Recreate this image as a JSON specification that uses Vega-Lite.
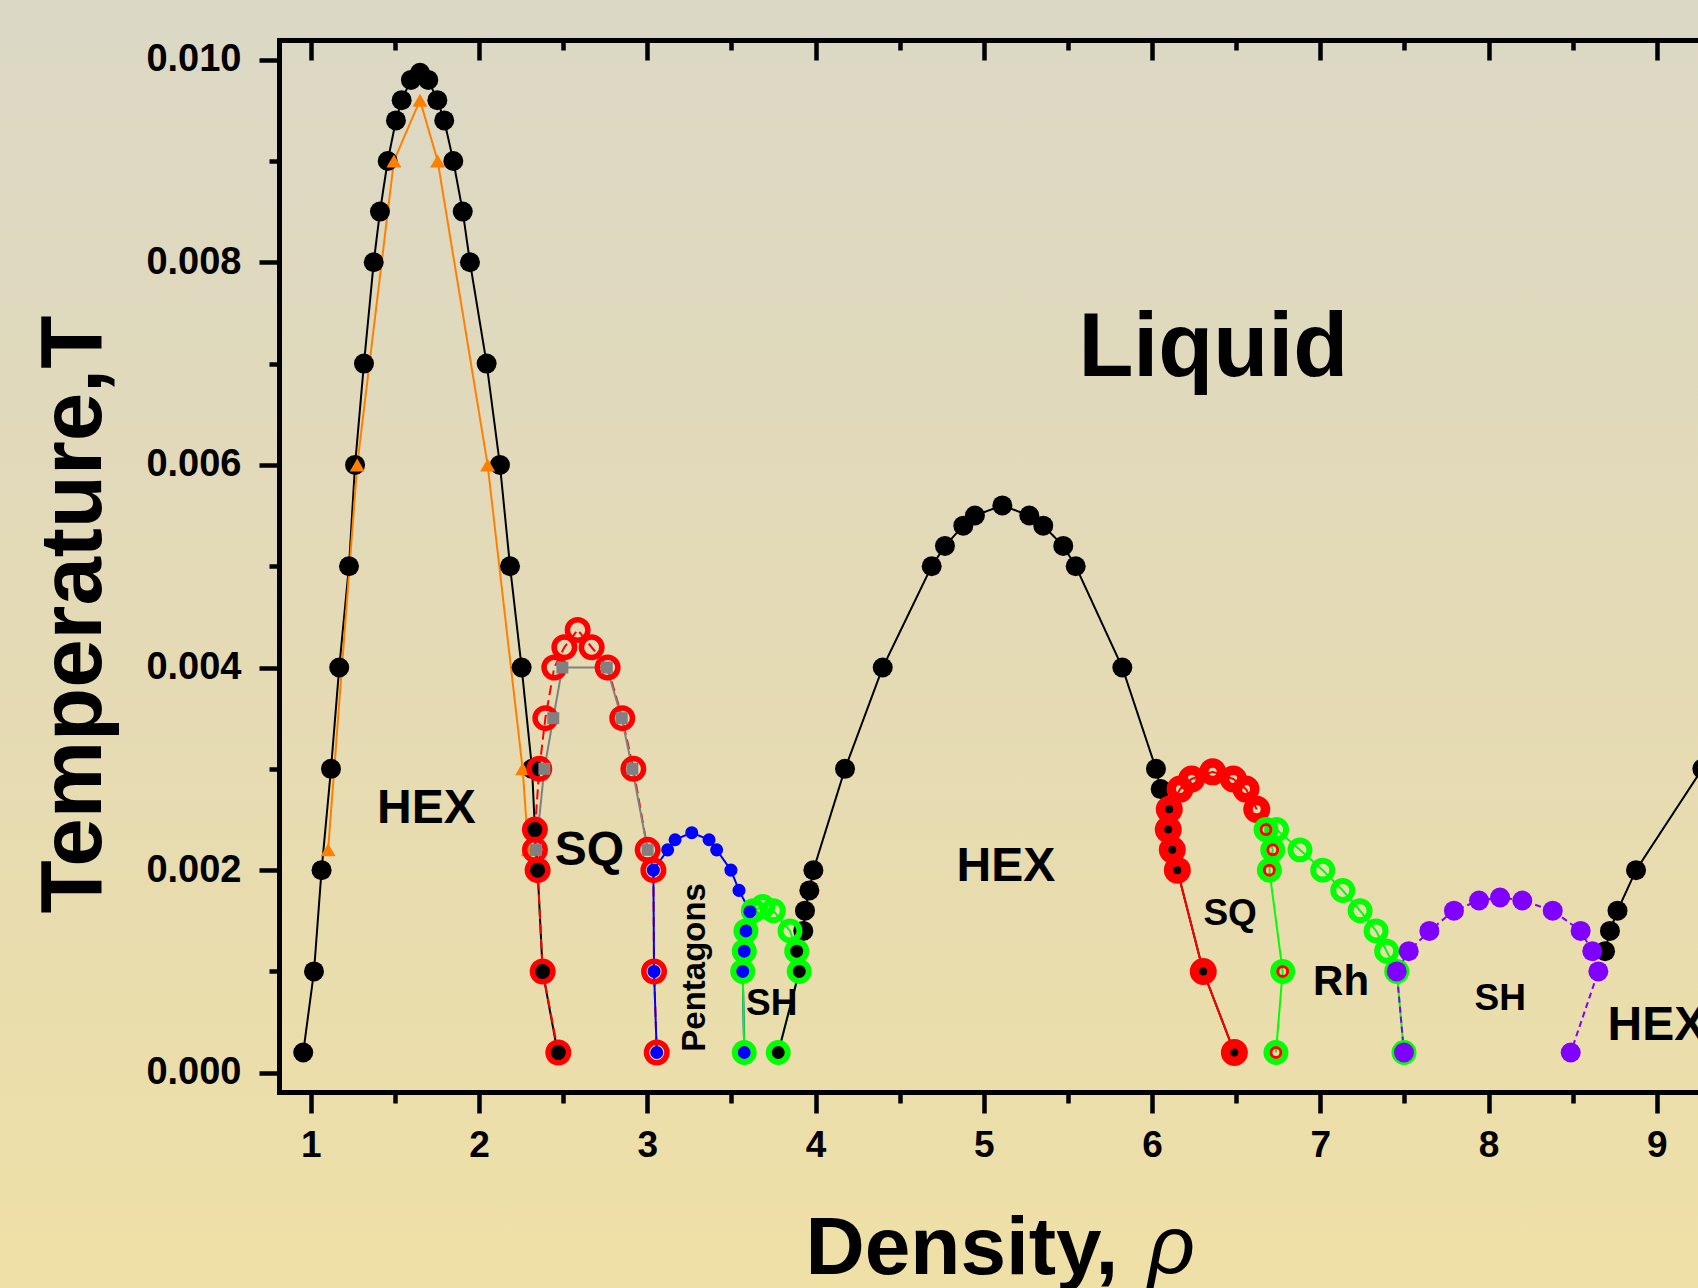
{
"$schema":"https://vega.github.io/schema/vega-lite/v6.json",
"width":1698,"height":1288,
"autosize":{"type":"none"},
"padding":0,
"background":"#e4dab5",
"config":{"view":{"stroke":null,"fill":{"gradient":"linear","x1":0,"y1":0,"x2":0,"y2":1,"stops":[{"offset":0,"color":"#dbd8c6"},{"offset":0.5,"color":"#e4dab5"},{"offset":1,"color":"#efe0a6"}]}},"font":"Liberation Sans"},
"datasets":{
"pts":[
{"s":"hex1","o":1,"x":0.955,"y":0.0002},{"s":"hex1","o":2,"x":1.019,"y":0.001},{"s":"hex1","o":3,"x":1.064,"y":0.002},{"s":"hex1","o":4,"x":1.12,"y":0.003},{"s":"hex1","o":5,"x":1.169,"y":0.004},{"s":"hex1","o":6,"x":1.227,"y":0.005},{"s":"hex1","o":7,"x":1.263,"y":0.006},{"s":"hex1","o":8,"x":1.316,"y":0.007},{"s":"hex1","o":9,"x":1.374,"y":0.008},{"s":"hex1","o":10,"x":1.411,"y":0.0085},{"s":"hex1","o":11,"x":1.457,"y":0.009},{"s":"hex1","o":12,"x":1.506,"y":0.0094},{"s":"hex1","o":13,"x":1.54,"y":0.0096},{"s":"hex1","o":14,"x":1.595,"y":0.0098},{"s":"hex1","o":15,"x":1.649,"y":0.00987},{"s":"hex1","o":16,"x":1.698,"y":0.0098},{"s":"hex1","o":17,"x":1.752,"y":0.0096},{"s":"hex1","o":18,"x":1.793,"y":0.0094},{"s":"hex1","o":19,"x":1.847,"y":0.009},{"s":"hex1","o":20,"x":1.903,"y":0.0085},{"s":"hex1","o":21,"x":1.946,"y":0.008},{"s":"hex1","o":22,"x":2.045,"y":0.007},{"s":"hex1","o":23,"x":2.124,"y":0.006},{"s":"hex1","o":24,"x":2.184,"y":0.005},{"s":"hex1","o":25,"x":2.253,"y":0.004},{"s":"hex1","o":26,"x":2.315,"y":0.003},{"s":"hex1","o":27,"x":2.332,"y":0.0024},{"s":"hex1","o":28,"x":2.348,"y":0.002},{"s":"hex1","o":29,"x":2.378,"y":0.001},{"s":"hex1","o":30,"x":2.467,"y":0.0002},
{"s":"tri","o":1,"x":1.103,"y":0.0022},{"s":"tri","o":2,"x":1.276,"y":0.006},{"s":"tri","o":3,"x":1.494,"y":0.009},{"s":"tri","o":4,"x":1.649,"y":0.0096},{"s":"tri","o":5,"x":1.754,"y":0.009},{"s":"tri","o":6,"x":2.051,"y":0.006},{"s":"tri","o":7,"x":2.259,"y":0.003},{"s":"tri","o":8,"x":2.293,"y":0.0022},
{"s":"sq1","o":1,"x":2.471,"y":0.0002},{"s":"sq1","o":2,"x":2.378,"y":0.001},{"s":"sq1","o":3,"x":2.348,"y":0.002},{"s":"sq1","o":4,"x":2.332,"y":0.0022},{"s":"sq1","o":5,"x":2.332,"y":0.0024},{"s":"sq1","o":6,"x":2.358,"y":0.003},{"s":"sq1","o":7,"x":2.394,"y":0.0035},{"s":"sq1","o":8,"x":2.447,"y":0.004},{"s":"sq1","o":9,"x":2.507,"y":0.0042},{"s":"sq1","o":10,"x":2.586,"y":0.00437},{"s":"sq1","o":11,"x":2.669,"y":0.0042},{"s":"sq1","o":12,"x":2.764,"y":0.004},{"s":"sq1","o":13,"x":2.851,"y":0.0035},{"s":"sq1","o":14,"x":2.917,"y":0.003},{"s":"sq1","o":15,"x":3.002,"y":0.0022},{"s":"sq1","o":16,"x":3.036,"y":0.002},{"s":"sq1","o":17,"x":3.04,"y":0.001},{"s":"sq1","o":18,"x":3.056,"y":0.0002},
{"s":"gray","o":1,"x":2.338,"y":0.0022},{"s":"gray","o":2,"x":2.388,"y":0.003},{"s":"gray","o":3,"x":2.441,"y":0.0035},{"s":"gray","o":4,"x":2.495,"y":0.004},{"s":"gray","o":5,"x":2.759,"y":0.004},{"s":"gray","o":6,"x":2.848,"y":0.0035},{"s":"gray","o":7,"x":2.911,"y":0.003},{"s":"gray","o":8,"x":3.002,"y":0.0022},
{"s":"pent","o":1,"x":3.056,"y":0.0002},{"s":"pent","o":2,"x":3.04,"y":0.001},{"s":"pent","o":3,"x":3.036,"y":0.002},{"s":"pent","o":4,"x":3.121,"y":0.0022},{"s":"pent","o":5,"x":3.165,"y":0.0023},{"s":"pent","o":6,"x":3.264,"y":0.00237},{"s":"pent","o":7,"x":3.367,"y":0.0023},{"s":"pent","o":8,"x":3.412,"y":0.0022},{"s":"pent","o":9,"x":3.497,"y":0.002},{"s":"pent","o":10,"x":3.545,"y":0.0018},{"s":"pent","o":11,"x":3.61,"y":0.00159},{"s":"pent","o":12,"x":3.586,"y":0.0014},{"s":"pent","o":13,"x":3.576,"y":0.0012},{"s":"pent","o":14,"x":3.567,"y":0.001},{"s":"pent","o":15,"x":3.576,"y":0.0002},
{"s":"sh1","o":1,"x":3.576,"y":0.0002},{"s":"sh1","o":2,"x":3.567,"y":0.001},{"s":"sh1","o":3,"x":3.576,"y":0.0012},{"s":"sh1","o":4,"x":3.586,"y":0.0014},{"s":"sh1","o":5,"x":3.63,"y":0.0016},{"s":"sh1","o":6,"x":3.686,"y":0.00164},{"s":"sh1","o":7,"x":3.749,"y":0.0016},{"s":"sh1","o":8,"x":3.848,"y":0.0014},{"s":"sh1","o":9,"x":3.888,"y":0.0012},{"s":"sh1","o":10,"x":3.903,"y":0.001},{"s":"sh1","o":11,"x":3.778,"y":0.0002},
{"s":"hex2","o":1,"x":3.778,"y":0.0002},{"s":"hex2","o":2,"x":3.903,"y":0.001},{"s":"hex2","o":3,"x":3.888,"y":0.0012},{"s":"hex2","o":4,"x":3.927,"y":0.0014},{"s":"hex2","o":5,"x":3.937,"y":0.0016},{"s":"hex2","o":6,"x":3.963,"y":0.0018},{"s":"hex2","o":7,"x":3.987,"y":0.002},{"s":"hex2","o":8,"x":4.175,"y":0.003},{"s":"hex2","o":9,"x":4.399,"y":0.004},{"s":"hex2","o":10,"x":4.69,"y":0.005},{"s":"hex2","o":11,"x":4.769,"y":0.0052},{"s":"hex2","o":12,"x":4.878,"y":0.0054},{"s":"hex2","o":13,"x":4.947,"y":0.0055},{"s":"hex2","o":14,"x":5.11,"y":0.0056},{"s":"hex2","o":15,"x":5.27,"y":0.0055},{"s":"hex2","o":16,"x":5.353,"y":0.0054},{"s":"hex2","o":17,"x":5.472,"y":0.0052},{"s":"hex2","o":18,"x":5.546,"y":0.005},{"s":"hex2","o":19,"x":5.823,"y":0.004},{"s":"hex2","o":20,"x":6.023,"y":0.003},{"s":"hex2","o":21,"x":6.051,"y":0.0028},{"s":"hex2","o":22,"x":6.102,"y":0.0026},{"s":"hex2","o":23,"x":6.096,"y":0.0024},{"s":"hex2","o":24,"x":6.12,"y":0.0022},{"s":"hex2","o":25,"x":6.15,"y":0.002},{"s":"hex2","o":26,"x":6.304,"y":0.001},{"s":"hex2","o":27,"x":6.489,"y":0.0002},
{"s":"sq2","o":1,"x":6.489,"y":0.0002},{"s":"sq2","o":2,"x":6.304,"y":0.001},{"s":"sq2","o":3,"x":6.15,"y":0.002},{"s":"sq2","o":4,"x":6.12,"y":0.0022},{"s":"sq2","o":5,"x":6.096,"y":0.0024},{"s":"sq2","o":6,"x":6.102,"y":0.0026},{"s":"sq2","o":7,"x":6.166,"y":0.0028},{"s":"sq2","o":8,"x":6.235,"y":0.0029},{"s":"sq2","o":9,"x":6.36,"y":0.00297},{"s":"sq2","o":10,"x":6.483,"y":0.0029},{"s":"sq2","o":11,"x":6.558,"y":0.0028},{"s":"sq2","o":12,"x":6.622,"y":0.0026},
{"s":"rhL","o":1,"x":6.677,"y":0.0024},{"s":"rhL","o":2,"x":6.717,"y":0.0022},{"s":"rhL","o":3,"x":6.697,"y":0.002},{"s":"rhL","o":4,"x":6.776,"y":0.001},{"s":"rhL","o":5,"x":6.736,"y":0.0002},
{"s":"rh","o":1,"x":6.74,"y":0.0024},{"s":"rh","o":2,"x":6.879,"y":0.0022},{"s":"rh","o":3,"x":7.014,"y":0.002},{"s":"rh","o":4,"x":7.133,"y":0.0018},{"s":"rh","o":5,"x":7.236,"y":0.0016},{"s":"rh","o":6,"x":7.331,"y":0.0014},{"s":"rh","o":7,"x":7.394,"y":0.0012},{"s":"rh","o":8,"x":7.454,"y":0.001},{"s":"rh","o":9,"x":7.497,"y":0.0002},
{"s":"sh2","o":1,"x":7.497,"y":0.0002},{"s":"sh2","o":2,"x":7.454,"y":0.001},{"s":"sh2","o":3,"x":7.525,"y":0.0012},{"s":"sh2","o":4,"x":7.648,"y":0.0014},{"s":"sh2","o":5,"x":7.794,"y":0.0016},{"s":"sh2","o":6,"x":7.943,"y":0.0017},{"s":"sh2","o":7,"x":8.068,"y":0.00173},{"s":"sh2","o":8,"x":8.2,"y":0.0017},{"s":"sh2","o":9,"x":8.381,"y":0.0016},{"s":"sh2","o":10,"x":8.547,"y":0.0014},{"s":"sh2","o":11,"x":8.616,"y":0.0012},{"s":"sh2","o":12,"x":8.652,"y":0.001},{"s":"sh2","o":13,"x":8.488,"y":0.0002},
{"s":"hex3","o":1,"x":8.692,"y":0.0012},{"s":"hex3","o":2,"x":8.721,"y":0.0014},{"s":"hex3","o":3,"x":8.766,"y":0.0016},{"s":"hex3","o":4,"x":8.876,"y":0.002},{"s":"hex3","o":5,"x":9.27,"y":0.003}
],
"lab":[
{"id":"liquid","t":"Liquid","x":6.364,"y":0.00688},
{"id":"hex1","t":"HEX","x":1.687,"y":0.00247},
{"id":"sq1","t":"SQ","x":2.656,"y":0.00205},
{"id":"hex2","t":"HEX","x":5.131,"y":0.00189},
{"id":"hex3","t":"HEX","x":9.0,"y":0.00032},
{"id":"pent","t":"Pentagons","x":3.343,"y":0.00104},
{"id":"sh1","t":"SH","x":3.739,"y":0.00057},
{"id":"sq2","t":"SQ","x":6.464,"y":0.00146},
{"id":"rh","t":"Rh","x":7.123,"y":0.00077},
{"id":"sh2","t":"SH","x":8.069,"y":0.00062},
{"id":"rho","t":"ρ","x":5.976,"y":-0.00198}
]
},
"resolve":{"axis":{"x":"independent","y":"independent"}},
"layer":[
{"data":{"name":"pts"},
 "mark":{"type":"line","strokeWidth":2,"clip":true},
 "encoding":{
  "x":{"field":"x","type":"quantitative","scale":{"domain":[0.811,9.2444],"range":[279,1698],"nice":false,"zero":false},
   "axis":{"orient":"bottom","offset":-196,"values":[1,2,3,4,5,6,7,8,9],"format":"d",
    "tickSize":21,"tickWidth":4.5,"tickColor":"#000000","domainColor":"#000000","domainWidth":5,"domainCap":"square","grid":false,
    "labelFont":"Liberation Sans","labelFontWeight":"bold","labelFontSize":37,"labelColor":"#000000","labelPadding":14,"labelBaseline":"top","labelFlush":false,"labelOverlap":false,
    "title":"Density,","titleFont":"Liberation Sans","titleFontWeight":"bold","titleFontSize":82,"titleColor":"#000000",
    "titleX":805,"titleY":181,"titleAlign":"left","titleBaseline":"alphabetic","titleAnchor":null}},
  "y":{"field":"y","type":"quantitative","scale":{"domain":[-0.00019,0.010194],"range":[1092,40],"nice":false,"zero":false},
   "axis":{"orient":"left","offset":-279,"values":[0,0.002,0.004,0.006,0.008,0.01],"format":".3f",
    "tickSize":20,"tickWidth":4.5,"tickColor":"#000000","domainColor":"#000000","domainWidth":5,"domainCap":"square","grid":false,
    "labelFont":"Liberation Sans","labelFontWeight":"bold","labelFontSize":38,"labelColor":"#000000","labelPadding":18,"labelBaseline":"middle","labelFlush":false,"labelOverlap":false,
    "title":"Temperature,T","titleFont":"Liberation Sans","titleFontWeight":"bold","titleFontSize":87,"titleColor":"#000000",
    "titleAngle":270,"titleX":-179,"titleY":614,"titleAlign":"center","titleBaseline":"alphabetic","titleAnchor":null}},
  "color":{"field":"s","type":"nominal","legend":null,"scale":{"domain":["hex1","hex2","hex3","tri","sq1","gray","pent","sh1","sq2","rhL","rh","sh2"],"range":["#000000","#000000","#000000","#ff8000","#ff0000","#808080","#0000ff","#00ff00","#ff0000","#00ff00","#00ff00","#8000ff"]}},
  "strokeDash":{"field":"s","type":"nominal","legend":null,"scale":{"domain":["hex1","hex2","hex3","tri","sq1","gray","pent","sh1","sq2","rhL","rh","sh2"],"range":[[1,0],[1,0],[1,0],[1,0],[10,5],[1,0],[1,0],[1,0],[1,0],[1,0],[1,0],[6,4]]}},
  "order":{"field":"o","type":"quantitative"}
 }},
{"data":{"name":"pts"},
 "transform":[{"filter":"indexof(['hex1','hex2','hex3'], datum.s) >= 0"}],
 "mark":{"type":"point","shape":"circle","filled":true,"size":400,"color":"#000000","opacity":1,"clip":true},
 "encoding":{
  "x":{"field":"x","type":"quantitative",
   "axis":{"orient":"bottom","offset":-196,"values":[1.5,2.5,3.5,4.5,5.5,6.5,7.5,8.5],"labels":false,"domain":false,
    "tickSize":11,"tickWidth":4.5,"tickColor":"#000000","grid":false,"title":null}},
  "y":{"field":"y","type":"quantitative",
   "axis":{"orient":"left","offset":-279,"values":[0.001,0.003,0.005,0.007,0.009],"labels":false,"domain":false,
    "tickSize":10,"tickWidth":4.5,"tickColor":"#000000","grid":false,"title":null}}
 }},
{"data":{"name":"pts"},
 "transform":[{"filter":"datum.s === 'tri'"}],
 "mark":{"type":"point","shape":"triangle-up","filled":true,"size":225,"color":"#ff8000","opacity":1},
 "encoding":{
  "x":{"field":"x","type":"quantitative",
   "axis":{"orient":"bottom","offset":-1248,"values":[1,2,3,4,5,6,7,8,9],"labels":false,
    "tickSize":20,"tickWidth":4.5,"tickColor":"#000000","domainColor":"#000000","domainWidth":5,"domainCap":"square","grid":false,"title":null}},
  "y":{"field":"y","type":"quantitative","axis":null}}},
{"data":{"name":"pts"},
 "transform":[{"filter":"datum.s === 'sq1'"}],
 "mark":{"type":"point","shape":"circle","filled":false,"size":420,"strokeWidth":5.5,"color":"#ff0000","opacity":1},
 "encoding":{
  "x":{"field":"x","type":"quantitative",
   "axis":{"orient":"bottom","offset":-1248,"values":[1.5,2.5,3.5,4.5,5.5,6.5,7.5,8.5],"labels":false,"domain":false,
    "tickSize":10,"tickWidth":4.5,"tickColor":"#000000","grid":false,"title":null}},
  "y":{"field":"y","type":"quantitative","axis":null}}},
{"data":{"name":"pts"},
 "transform":[{"filter":"datum.s === 'gray'"}],
 "mark":{"type":"point","shape":"square","filled":true,"size":144,"color":"#808080","opacity":1},
 "encoding":{"x":{"field":"x","type":"quantitative","axis":null},"y":{"field":"y","type":"quantitative","axis":null}}},
{"data":{"name":"pts"},
 "transform":[{"filter":"datum.s === 'sq2'"}],
 "mark":{"type":"point","shape":"circle","filled":false,"size":306,"strokeWidth":9.5,"color":"#ff0000","opacity":1},
 "encoding":{"x":{"field":"x","type":"quantitative","axis":null},"y":{"field":"y","type":"quantitative","axis":null}}},
{"data":{"name":"pts"},
 "transform":[{"filter":"indexof(['sh1','rhL','rh'], datum.s) >= 0"}],
 "mark":{"type":"point","shape":"circle","filled":false,"size":360,"strokeWidth":6,"color":"#00ff00","opacity":1},
 "encoding":{"x":{"field":"x","type":"quantitative","axis":null},"y":{"field":"y","type":"quantitative","axis":null}}},
{"data":{"name":"pts"},
 "transform":[{"filter":"datum.s === 'rhL'"}],
 "mark":{"type":"point","shape":"circle","filled":false,"size":100,"strokeWidth":3,"color":"#ff0000","opacity":1},
 "encoding":{"x":{"field":"x","type":"quantitative","axis":null},"y":{"field":"y","type":"quantitative","axis":null}}},
{"data":{"name":"pts"},
 "transform":[{"filter":"datum.s === 'pent'"}],
 "mark":{"type":"point","shape":"circle","filled":true,"size":170,"color":"#0000ff","opacity":1},
 "encoding":{"x":{"field":"x","type":"quantitative","axis":null},"y":{"field":"y","type":"quantitative","axis":null}}},
{"data":{"name":"pts"},
 "transform":[{"filter":"datum.s === 'sh2'"}],
 "mark":{"type":"point","shape":"circle","filled":true,"size":400,"color":"#8000ff","opacity":1},
 "encoding":{"x":{"field":"x","type":"quantitative","axis":null},"y":{"field":"y","type":"quantitative","axis":null}}},
{"data":{"name":"lab"},
 "transform":[{"filter":"datum.id === 'liquid'"}],
 "mark":{"type":"text","font":"Liberation Sans","fontWeight":"bold","fontSize":90,"align":"center","baseline":"alphabetic","color":"#000000"},
 "encoding":{"x":{"field":"x","type":"quantitative","axis":null},"y":{"field":"y","type":"quantitative","axis":null},"text":{"field":"t"}}},
{"data":{"name":"lab"},
 "transform":[{"filter":"indexof(['hex1','sq1','hex2','hex3'], datum.id) >= 0"}],
 "mark":{"type":"text","font":"Liberation Sans","fontWeight":"bold","fontSize":48,"align":"center","baseline":"alphabetic","color":"#000000"},
 "encoding":{"x":{"field":"x","type":"quantitative","axis":null},"y":{"field":"y","type":"quantitative","axis":null},"text":{"field":"t"}}},
{"data":{"name":"lab"},
 "transform":[{"filter":"indexof(['sh1','sq2','sh2'], datum.id) >= 0"}],
 "mark":{"type":"text","font":"Liberation Sans","fontWeight":"bold","fontSize":37,"align":"center","baseline":"alphabetic","color":"#000000"},
 "encoding":{"x":{"field":"x","type":"quantitative","axis":null},"y":{"field":"y","type":"quantitative","axis":null},"text":{"field":"t"}}},
{"data":{"name":"lab"},
 "transform":[{"filter":"datum.id === 'rh'"}],
 "mark":{"type":"text","font":"Liberation Sans","fontWeight":"bold","fontSize":42,"align":"center","baseline":"alphabetic","color":"#000000"},
 "encoding":{"x":{"field":"x","type":"quantitative","axis":null},"y":{"field":"y","type":"quantitative","axis":null},"text":{"field":"t"}}},
{"data":{"name":"lab"},
 "transform":[{"filter":"datum.id === 'pent'"}],
 "mark":{"type":"text","font":"Liberation Sans","fontWeight":"bold","fontSize":33,"align":"center","baseline":"alphabetic","angle":270,"color":"#000000"},
 "encoding":{"x":{"field":"x","type":"quantitative","axis":null},"y":{"field":"y","type":"quantitative","axis":null},"text":{"field":"t"}}},
{"data":{"name":"lab"},
 "transform":[{"filter":"datum.id === 'rho'"}],
 "mark":{"type":"text","font":"Liberation Sans","fontStyle":"italic","fontWeight":"normal","fontSize":82,"align":"left","baseline":"alphabetic","color":"#000000"},
 "encoding":{"x":{"field":"x","type":"quantitative","axis":null},"y":{"field":"y","type":"quantitative","axis":null},"text":{"field":"t"}}}
]
}
